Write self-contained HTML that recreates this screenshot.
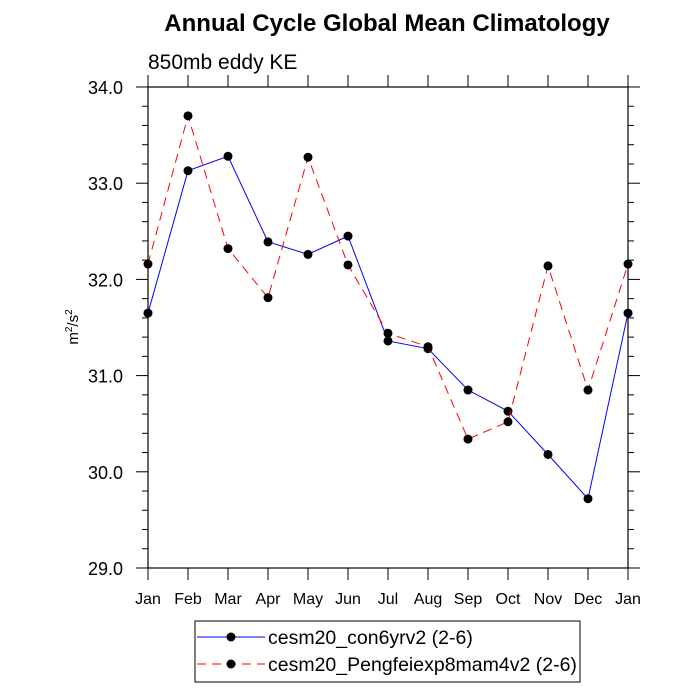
<!DOCTYPE html>
<html><head><meta charset="utf-8"><style>body{margin:0;background:#fff}svg{display:block;font-family:"Liberation Sans",sans-serif}</style></head>
<body>
<svg id="chart" width="700" height="700">
<text x="387" y="31" font-size="24" font-weight="bold" text-anchor="middle">Annual Cycle Global Mean Climatology</text>
<text x="148" y="69" font-size="21">850mb eddy KE</text>
<text transform="translate(78,327) rotate(-90)" font-size="15" text-anchor="middle">m<tspan dy="-6" font-size="10">2</tspan><tspan dy="6">/s</tspan><tspan dy="-6" font-size="10">2</tspan></text>
<g id="axes"></g><g id="series"></g><g id="legend"></g>
</svg>
<script>
const months=["Jan","Feb","Mar","Apr","May","Jun","Jul","Aug","Sep","Oct","Nov","Dec","Jan"];
const blueVals=[31.65,33.13,33.28,32.39,32.26,32.45,31.36,31.28,30.85,30.63,30.18,29.72,31.65];
const redVals=[32.16,33.70,32.32,31.81,33.27,32.15,31.44,31.30,30.34,30.52,32.14,30.85,32.16];
const yTicks=[29.0,30.0,31.0,32.0,33.0,34.0];
const seriesNames=["cesm20_con6yrv2 (2-6)","cesm20_Pengfeiexp8mam4v2 (2-6)"];
const X0=148,X1=628,Y0=568,Y1=87,ymin=29,ymax=34;
const xs=i=>X0+(X1-X0)*i/(months.length-1);
const ys=v=>Y0-(Y0-Y1)*(v-ymin)/(ymax-ymin);
const NS="http://www.w3.org/2000/svg";
function mk(p,t,a){const e=document.createElementNS(NS,t);for(const k in a)e.setAttribute(k,a[k]);p.appendChild(e);return e;}
const ax=document.getElementById('axes');
const fr=mk(ax,'rect',{x:X0,y:Y1,width:X1-X0,height:Y0-Y1,fill:'none',stroke:'#000','stroke-width':1.2});


months.forEach((m,i)=>{const x=xs(i);
 mk(ax,'line',{x1:x,x2:x,y1:Y0,y2:Y0+12,stroke:'#000'});
 mk(ax,'line',{x1:x,x2:x,y1:Y1,y2:Y1-12,stroke:'#000'});
 const t=mk(ax,'text',{x:x,y:Y0+36,'font-size':16,'text-anchor':'middle'});t.textContent=m;
 
 
});
for(let v=ymin;v<=ymax+1e-6;v+=0.2){const y=ys(v);const major=Math.abs(v-Math.round(v))<1e-6;const L=major?12:6;
 mk(ax,'line',{x1:X0-L,x2:X0,y1:y,y2:y,stroke:'#000'});
 mk(ax,'line',{x1:X1,x2:X1+L,y1:y,y2:y,stroke:'#000'});}
yTicks.forEach(v=>{const t=mk(ax,'text',{x:X0-25,y:ys(v)+7,'font-size':18,'text-anchor':'end'});t.textContent=v.toFixed(1);
 
 });
const sg=document.getElementById('series');
function drawSeries(vals,color,dash,name){
 const g=mk(sg,'g',{});
 
 
 mk(g,'polyline',{points:vals.map((v,i)=>xs(i)+','+ys(v)).join(' '),fill:'none',stroke:color,'stroke-width':1,'stroke-dasharray':dash});
 vals.forEach((v,i)=>{const c=mk(g,'circle',{cx:xs(i),cy:ys(v),r:4.5,fill:'#000'});
  
  });
}
drawSeries(blueVals,'#0000ff','none','series-blue');
drawSeries(redVals,'#ff0000','9,6','series-red');
const lg=document.getElementById('legend');
const box=mk(lg,'rect',{x:195,y:621,width:385,height:61,fill:'none',stroke:'#000','stroke-width':1});


[['#0000ff','none',637],['#ff0000','9,6',664]].forEach((s,i)=>{
 mk(lg,'line',{x1:197,x2:265,y1:s[2],y2:s[2],stroke:s[0],'stroke-dasharray':s[1]});
 mk(lg,'circle',{cx:231,cy:s[2],r:4.5,fill:'#000'});
 const t=mk(lg,'text',{x:268,y:s[2]+7,'font-size':19.5});t.textContent=seriesNames[i];
 
 
});
</script>
</body></html>
